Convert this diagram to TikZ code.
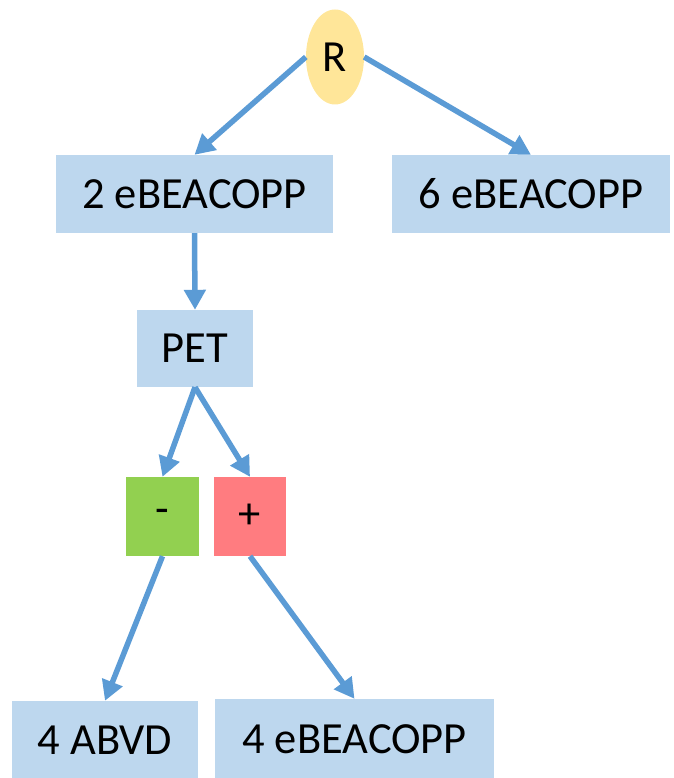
\documentclass[tikz,border=0pt]{standalone}
\usepackage{fontspec}
\setmainfont{Carlito}
\usetikzlibrary{arrows.meta,shapes.geometric}
\definecolor{boxblue}{HTML}{BDD7EE}
\definecolor{arrowblue}{HTML}{5B9BD5}
\definecolor{ryellow}{HTML}{FFE699}
\definecolor{negreen}{HTML}{92D050}
\definecolor{posred}{HTML}{FF7C80}
\tikzset{
  box/.style={rectangle, fill=boxblue, inner sep=0pt, font=\fontsize{44.5}{52}\selectfont},
  conn/.style={draw=arrowblue, line width=5.5pt, -{Triangle[length=20pt,width=21pt]}},
}
\begin{document}
\begin{tikzpicture}[x=1pt,y=-1pt]
\useasboundingbox (0,0) rectangle (673,778);
\node[ellipse, fill=ryellow, inner sep=0pt, minimum width=58pt, minimum height=95pt, font=\fontsize{44.5}{52}\selectfont] (R) at (335,57) {R};
\node[box, minimum width=277pt, minimum height=78pt] (b2) at (194.5,194) {2 eBEACOPP};
\node[box, minimum width=278pt, minimum height=78pt] (b6) at (531,194) {6 eBEACOPP};
\node[box, minimum width=116pt, minimum height=77pt] (pet) at (195,348.5) {PET};
\node[box, fill=negreen, minimum width=73pt, minimum height=79pt] (neg) at (162.5,516.5) {-};
\node[box, fill=posred, minimum width=72pt, minimum height=79pt] (pos) at (250,516.5) {+};
\node[box, minimum width=186pt, minimum height=78pt] (abvd) at (105,740) {4 ABVD};
\node[box, minimum width=279pt, minimum height=80pt] (b4) at (354.5,739) {4 eBEACOPP};
\draw[conn] (R.west) -- (b2.north);
\draw[conn] (R.east) -- (b6.north);
\draw[conn] (b2.south) -- (pet.north);
\draw[conn] (pet.south) -- (neg.north);
\draw[conn] (pet.south) -- (pos.north);
\draw[conn] (neg.south) -- (abvd.north);
\draw[conn] (pos.south) -- (b4.north);
\end{tikzpicture}
\end{document}
